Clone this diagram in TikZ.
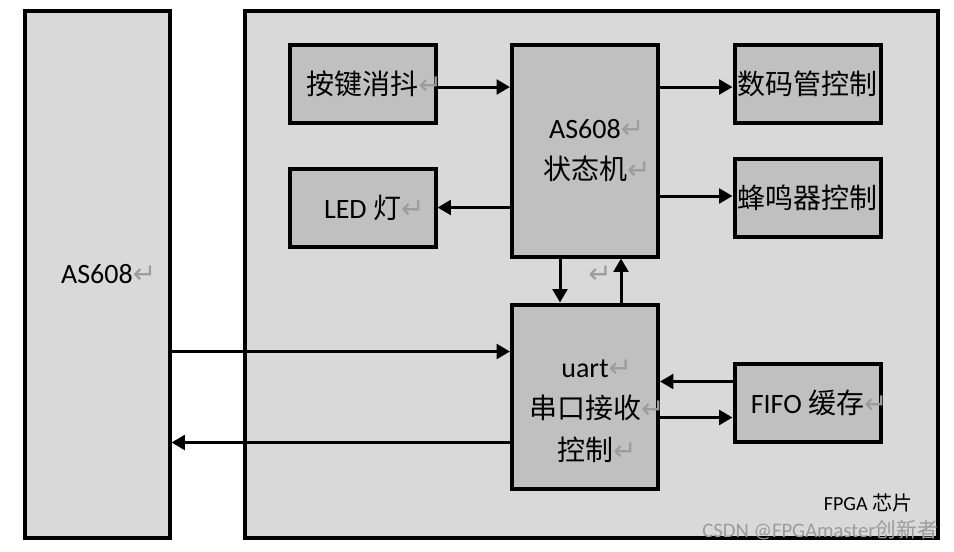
\documentclass[tikz,border=0pt]{standalone}
\usepackage{fontspec}
\setmainfont{Carlito}
\newfontfamily\cjk{Noto Sans CJK SC}
\newfontfamily\symfont{DejaVu Sans}
\usetikzlibrary{arrows.meta,calc}
\definecolor{outerfill}{HTML}{D9D9D9}
\definecolor{innerfill}{HTML}{C0C0C0}
\definecolor{retgray}{HTML}{9C9C9C}
\newcommand{\zh}[1]{{\cjk #1}}
\newcommand{\retmark}{{\symfont\fontsize{21}{21}\selectfont\color{retgray}↵}}
\newcommand{\ret}{\rlap{\retmark}}
\begin{document}
\begin{tikzpicture}[x=0.75pt, y=-0.75pt, font=\fontsize{21}{31}\selectfont,
  outerbox/.style={draw, line width=3pt, fill=outerfill, inner sep=0pt, minimum width=108.75pt, minimum height=395.25pt},
  blk/.style={draw, line width=3pt, fill=innerfill, inner sep=0pt, minimum width=109.5pt, minimum height=59pt, align=center},
  arr/.style={-{Triangle[length=10pt,width=11pt]}, line width=2.25pt}]
  \useasboundingbox (0,0) rectangle (954,551);
  % outer blocks
  \node[outerbox] (as) at (97,274) {AS608\ret};
  \node[outerbox, minimum width=519.75pt] (fpga) at (591.5,274) {};
  % blocks inside the FPGA
  \node[blk] (key) at (362.5,84) {\zh{按键消抖}\ret};
  \node[blk, minimum height=159pt] (fsm) at (585,150.5) {AS608\ret\\\zh{状态机}\ret};
  \node[blk] (seg) at (807.5,84) {\zh{数码管控制}};
  \node[blk, minimum height=58.5pt] (led) at (362.5,207.5) {LED \zh{灯}\ret};
  \node[blk] (buzz) at (807.5,198) {\zh{蜂鸣器控制}};
  \node[blk, minimum height=138pt] (uart) at (585,396.5) {};
  \node[align=center] (uartlbl) at (585,411) {uart\ret\\\zh{串口接收}\ret\\\zh{控制}\ret};
  \node[blk, minimum height=58.5pt] (fifo) at (807.5,402.5) {FIFO \zh{缓存}\ret};
  \node (gap) at (600,275) {\retmark};
  \node[font=\fontsize{15}{15}\selectfont] (chip) at (868,503) {FPGA \zh{芯片}};
  \node[font=\fontsize{15.5}{15.5}\selectfont, text=retgray] (mark) at (820,530) {CSDN @FPGAmaster\zh{创新者}};
  % connectors
  \coordinate (k1) at ($(key.east)+(0,3)$);
  \draw[arr] (k1) -- (k1 -| fsm.west);
  \coordinate (s1) at ($(seg.west)+(0,3)$);
  \draw[arr] (s1 -| fsm.east) -- (s1);
  \draw[arr] (fsm.west |- led) -- (led.east);
  \coordinate (b1) at ($(buzz.west)+(0,-2)$);
  \draw[arr] (b1 -| fsm.east) -- (b1);
  \coordinate (d1) at ($(fsm.south)+(-25,0)$);
  \draw[arr] (d1) -- (d1 |- uart.north);
  \coordinate (d2) at ($(fsm.south)+(36,0)$);
  \draw[arr] (d2 |- uart.north) -- (d2);
  \coordinate (u1) at ($(uart.west)+(0,-45)$);
  \draw[arr] (as.east |- u1) -- (u1);
  \coordinate (u2) at ($(uart.west)+(0,46)$);
  \draw[arr] (u2) -- (u2 -| as.east);
  \coordinate (f1) at ($(fifo.west)+(0,-21)$);
  \draw[arr] (f1) -- (f1 -| uart.east);
  \coordinate (f2) at ($(fifo.west)+(0,15)$);
  \draw[arr] (f2 -| uart.east) -- (f2);
\end{tikzpicture}
\end{document}
